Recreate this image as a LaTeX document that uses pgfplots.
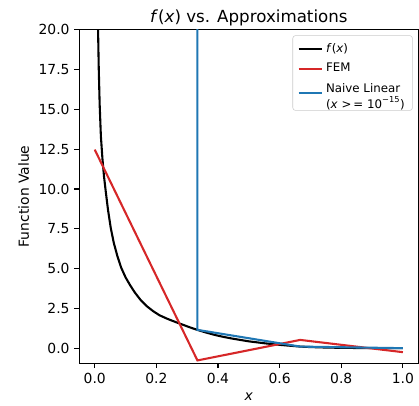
\documentclass[border=0pt]{standalone}
\usepackage{fontspec}
\setmainfont{DejaVu Sans}
\usepackage{pgfplots}
\pgfplotsset{compat=1.18}
\usetikzlibrary{calc}
\definecolor{tabred}{HTML}{D62728}
\definecolor{tabblue}{HTML}{1F77B4}
\begin{document}
\begin{tikzpicture}
\begin{axis}[
    scale only axis,
    width=244bp, height=240bp,
    xmin=-0.05, xmax=1.05,
    ymin=-0.94, ymax=20,
    xtick={0,0.2,0.4,0.6,0.8,1.0},
    ytick={0,2.5,5,7.5,10,12.5,15,17.5,20},
    /pgf/number format/.cd, fixed, fixed zerofill, precision=1, assume math mode=true,
    /pgfplots/.cd,
    tick pos=left,
    tick align=outside,
    major tick length=3.5bp,
    every tick/.style={black, line width=0.8bp},
    axis line style={line width=0.8bp},
    tick label style={font=\fontsize{10bp}{12bp}\selectfont},
    label style={font=\fontsize{10bp}{12bp}\selectfont},
    title style={font=\fontsize{12bp}{14bp}\selectfont, at={(0.5,1)}, anchor=base, yshift=-0.5bp},
    title={\textit{f}(\textit{x}) vs. Approximations},
    xlabel={\textit{x}},
    ylabel={Function Value},
    legend style={at={(1,1)}, anchor=north east, xshift=-4bp, yshift=-4bp,
        font=\fontsize{8.5bp}{10bp}\selectfont, draw=black!20, rounded corners=2bp,
        fill=white, fill opacity=0.8, text opacity=1, inner sep=3.5bp, row sep=2.5bp},
    legend cell align=left,
]
\addplot[black, line width=1.5bp, line join=round] coordinates {
(0.009,23.0) (0.0108,20.0) (0.013,17.6) (0.016,15.3) (0.020,13.3) (0.025,11.9)
(0.030,10.8) (0.036,9.8) (0.043,8.7) (0.052,7.55) (0.062,6.6) (0.074,5.75)
(0.086,5.05) (0.10,4.45) (0.115,3.95) (0.13,3.5) (0.15,3.0) (0.17,2.62)
(0.19,2.32) (0.21,2.07) (0.235,1.85) (0.26,1.66) (0.285,1.48) (0.31,1.3)
(0.333,1.15) (0.36,0.99) (0.39,0.83) (0.42,0.70) (0.45,0.59) (0.5,0.43)
(0.55,0.31) (0.6,0.21) (0.633,0.155) (0.667,0.10) (0.7,0.07) (0.75,0.04)
(0.8,0.022) (0.85,0.012) (0.9,0.005) (0.95,0.001) (1.0,0)
};
\addlegendentry{\textit{f}(\textit{x})}
\addplot[tabred, line width=1.5bp] coordinates {
(0,12.47) (0.3333,-0.77) (0.6667,0.52) (1.0,-0.25)
};
\addlegendentry{FEM}
\addplot[tabblue, line width=1.5bp] coordinates {
(0.3333,25) (0.3333,1.15) (0.6667,0.1) (1.0,0.0)
};
\addlegendentry{\begin{tabular}{@{}l@{}}Naive Linear\\(\textit{x} >\,= 10\textsuperscript{−15})\end{tabular}}
\end{axis}
\pgfresetboundingbox
\path[use as bounding box] ($(current axis.south west)+(-57.1bp,-30.7bp)$) rectangle ($(current axis.north east)+(0.5bp,21.4bp)$);
\end{tikzpicture}
\end{document}
